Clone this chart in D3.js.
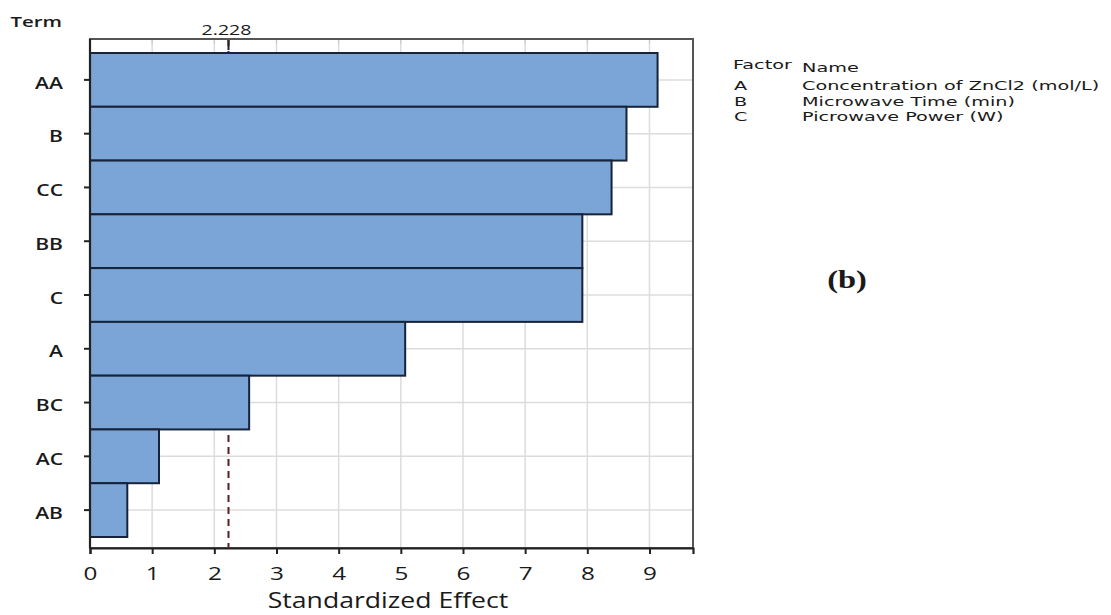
<!DOCTYPE html>
<html>
<head>
<meta charset="utf-8">
<script src="https://cdn.jsdelivr.net/npm/d3@7"></script>
<style>
  html, body { margin: 0; padding: 0; background: #fff; }
  svg { display: block; }
  text { font-family: "Open Sans", "DejaVu Sans", sans-serif; fill: #1a1a1a; }
</style>
</head>
<body>
<svg id="chart" width="1111" height="615"></svg>
<script>
// Pareto chart of standardized effects
const terms = ["AA", "B", "CC", "BB", "C", "A", "BC", "AC", "AB"];
const effects = [9.13, 8.63, 8.39, 7.92, 7.92, 5.07, 2.56, 1.11, 0.60];
const xTicks = [0, 1, 2, 3, 4, 5, 6, 7, 8, 9];
const criticalValue = 2.228;
const criticalLabel = "2.228";
const factorCodes = ["A", "B", "C"];
const factorNames = ["Concentration of ZnCl2 (mol/L)", "Microwave Time (min)", "Picrowave Power (W)"];

const svg = d3.select("#chart");
const plotLeft = 90, plotRight = 693, plotTop = 39, plotBottom = 548;
const barTop = 53, barBottom = 537;
const wide = 1.36;   // horizontal stretch of the label type

const x = d3.scaleLinear().domain([0, 9.7]).range([plotLeft, plotRight]);
const y = d3.scaleBand().domain(terms).range([barTop, barBottom]).padding(0);

// widen text glyphs horizontally about their anchor point
function stretch(sel, sx) {
  sel.each(function () {
    const t = d3.select(this);
    const tx = +t.attr("x") || 0, ty = +t.attr("y") || 0;
    t.attr("x", 0).attr("y", 0).attr("transform", `translate(${tx},${ty}) scale(${sx},1)`);
  });
}

// plot background
svg.append("rect").attr("x", plotLeft).attr("y", plotTop)
  .attr("width", plotRight - plotLeft).attr("height", plotBottom - plotTop).attr("fill", "#fff");

// grid lines
svg.append("g").selectAll("line").data(xTicks.slice(1)).join("line")
  .attr("x1", d => x(d)).attr("x2", d => x(d))
  .attr("y1", plotTop).attr("y2", plotBottom)
  .attr("stroke", "#dcdcdc").attr("stroke-width", 1.5);
svg.append("g").selectAll("line").data(terms).join("line")
  .attr("x1", plotLeft).attr("x2", plotRight)
  .attr("y1", d => y(d) + y.bandwidth() / 2).attr("y2", d => y(d) + y.bandwidth() / 2)
  .attr("stroke", "#dcdcdc").attr("stroke-width", 1.5);

// critical value reference line
svg.append("line")
  .attr("x1", x(criticalValue)).attr("x2", x(criticalValue))
  .attr("y1", plotTop).attr("y2", plotBottom)
  .attr("stroke", "#5a1f1f").attr("stroke-width", 2)
  .attr("stroke-dasharray", "7,5");

// bars
svg.append("g").selectAll("rect").data(terms).join("rect")
  .attr("x", x(0))
  .attr("y", d => y(d))
  .attr("width", (d, i) => x(effects[i]) - x(0))
  .attr("height", y.bandwidth())
  .attr("fill", "#7ba4d7")
  .attr("stroke", "#16233a").attr("stroke-width", 2);

// top axis: light ticks plus the critical value tick
svg.append("g").selectAll("line").data(xTicks.slice(1)).join("line")
  .attr("x1", d => x(d)).attr("x2", d => x(d))
  .attr("y1", plotTop).attr("y2", plotTop + 5)
  .attr("stroke", "#c8c8c8").attr("stroke-width", 1);
svg.append("line")
  .attr("x1", x(criticalValue)).attr("x2", x(criticalValue))
  .attr("y1", plotTop).attr("y2", plotTop + 11)
  .attr("stroke", "#222").attr("stroke-width", 2);
svg.append("text")
  .attr("x", x(criticalValue) - 2).attr("y", plotTop - 4)
  .attr("text-anchor", "middle").attr("font-size", 14)
  .text(criticalLabel)
  .call(stretch, 1.4);

// frame
svg.append("rect").attr("x", plotLeft).attr("y", plotTop)
  .attr("width", plotRight - plotLeft).attr("height", plotBottom - plotTop)
  .attr("fill", "none").attr("stroke", "#555").attr("stroke-width", 2);

// bottom axis
const xAxis = svg.append("g")
  .attr("transform", `translate(0,${plotBottom})`)
  .call(d3.axisBottom(x).tickValues(xTicks).tickFormat(d3.format("d")).tickSize(6).tickPadding(13));
xAxis.select(".domain").attr("stroke", "#222").attr("stroke-width", 2.2);
xAxis.selectAll(".tick line").attr("stroke", "#222").attr("stroke-width", 2);
xAxis.selectAll(".tick text").attr("font-size", 18).attr("fill", "#1a1a1a")
  .style("font-family", "'Open Sans', 'DejaVu Sans', sans-serif")
  .call(stretch, 1.35);

// left axis
const yAxis = svg.append("g")
  .attr("transform", `translate(${plotLeft},0)`)
  .call(d3.axisLeft(y).tickSize(6).tickPadding(21));
yAxis.select(".domain").remove();
yAxis.selectAll(".tick line").attr("stroke", "#222").attr("stroke-width", 2);
yAxis.selectAll(".tick text").attr("font-size", 15.5).attr("dy", "0.56em")
  .attr("font-weight", 600).attr("fill", "#1a1a1a")
  .style("font-family", "'Open Sans', 'DejaVu Sans', sans-serif")
  .call(stretch, wide);
svg.append("line").attr("x1", plotLeft).attr("x2", plotLeft).attr("y1", plotTop).attr("y2", plotBottom)
  .attr("stroke", "#222").attr("stroke-width", 2.2);

// axis titles
svg.append("text").attr("x", 62).attr("y", 27).attr("text-anchor", "end")
  .attr("font-size", 15).attr("font-weight", 600).text("Term")
  .call(stretch, wide);
svg.append("text").attr("x", 388).attr("y", 608)
  .attr("text-anchor", "middle").attr("font-size", 22).text("Standardized Effect")
  .call(stretch, 1.21);

// factor legend (compact type so the tight rows keep clear of each other)
const legend = svg.append("g").attr("font-size", 13)
  .style("font-family", "'DejaVu Sans', sans-serif");
const legendWide = 1.48;
legend.append("text").attr("x", 733).attr("y", 69).text("Factor").call(stretch, legendWide);
legend.append("text").attr("x", 802).attr("y", 72).text("Name").call(stretch, legendWide);
factorCodes.forEach((c, i) => {
  legend.append("text").attr("x", 734).attr("y", 90 + i * 15.5).text(c).call(stretch, legendWide);
  legend.append("text").attr("x", 802).attr("y", 90 + i * 15.5).text(factorNames[i]).call(stretch, legendWide);
});
legend.selectAll("text").style("font-family", "'DejaVu Sans', sans-serif");

// panel label
svg.append("text").attr("x", 847).attr("y", 288)
  .attr("text-anchor", "middle").attr("font-size", 26).attr("font-weight", "bold")
  .style("font-family", "'Liberation Serif', 'DejaVu Serif', serif")
  .text("(b)")
  .call(stretch, 1.25);
</script>
</body>
</html>
